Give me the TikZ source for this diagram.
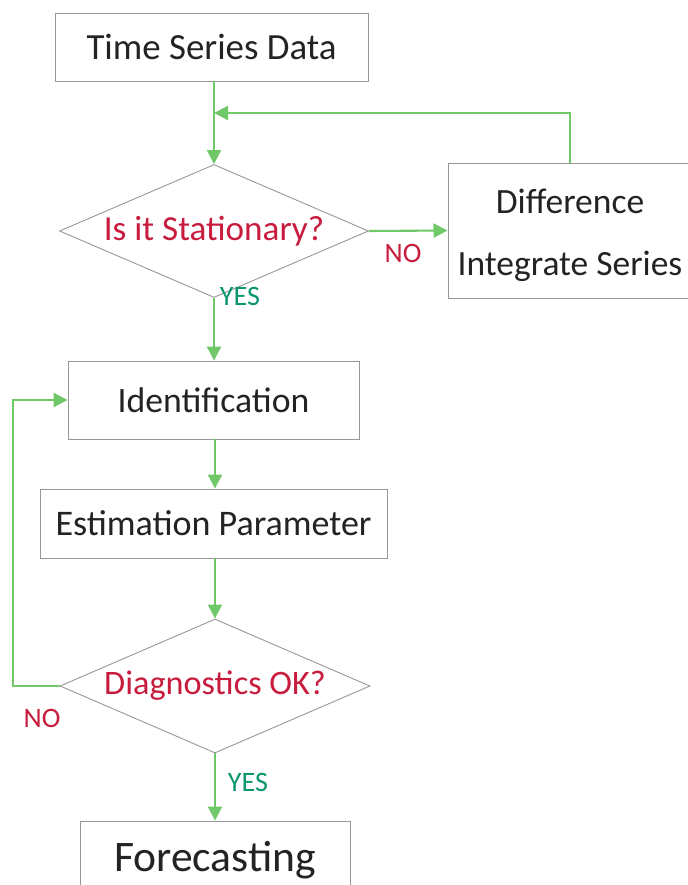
\documentclass[tikz,border=0pt]{standalone}
\usepackage{fontspec}
\setmainfont{Carlito}
\usetikzlibrary{shapes.geometric,arrows.meta}
\definecolor{arrgreen}{RGB}{112,200,105}
\definecolor{qred}{RGB}{200,28,62}
\definecolor{yteal}{RGB}{10,150,110}
\definecolor{boxline}{RGB}{150,150,150}
\definecolor{txt}{RGB}{35,35,35}
\tikzset{
  stepbox/.style={draw=boxline, line width=0.5pt, fill=white, text=txt, inner sep=0pt},
  decision/.style={draw=boxline, line width=0.5pt, shape=diamond, inner sep=0pt, text=qred},
  flow/.style={draw=arrgreen, line width=1.2pt, -{Triangle[length=8pt,width=8pt]}},
  nolab/.style={text=qred, font=\fontsize{16}{18}\selectfont},
  yeslab/.style={text=yteal, font=\fontsize{16}{18}\selectfont},
}
\begin{document}
\begin{tikzpicture}[x=0.02cm,y=-0.02cm]
\useasboundingbox (0,0) rectangle (688,885);
\clip (0,0) rectangle (688,885);
\fill[white] (0,0) rectangle (688,885);
\node[stepbox, minimum width=313*0.02cm, minimum height=68*0.02cm, font=\fontsize{21}{24}\selectfont] (tsd) at (211.5,47) {Time Series Data};
\node[decision, minimum width=309*0.02cm, minimum height=133*0.02cm, label={[text=qred, font=\fontsize{20}{24}\selectfont]center:Is it Stationary?}] (stat) at (214,231) {};
\node[stepbox, minimum width=244*0.02cm, minimum height=135*0.02cm, label={[text=txt, align=center, font=\fontsize{20.2}{35}\selectfont, yshift=-0.1cm]center:Difference\\Integrate Series}] (diff) at (570,230.5) {};
\node[stepbox, minimum width=291*0.02cm, minimum height=78*0.02cm, font=\fontsize{20.3}{24}\selectfont] (ident) at (213.5,400) {Identification};
\node[stepbox, minimum width=347*0.02cm, minimum height=69*0.02cm, font=\fontsize{20.5}{24}\selectfont] (est) at (213.5,523.5) {Estimation Parameter};
\node[decision, minimum width=310*0.02cm, minimum height=134*0.02cm, label={[text=qred, font=\fontsize{19.5}{24}\selectfont]center:Diagnostics OK?}] (diag) at (215,686) {};
\node[stepbox, minimum width=270*0.02cm, minimum height=78*0.02cm, font=\fontsize{24.8}{30}\selectfont] (fore) at (215,860) {Forecasting};
\coordinate (join) at (214,113);
\coordinate (lcorner) at (13,686);
\draw[flow] (tsd.south -| join) -- (stat.north);
\draw[flow] (diff.north) |- (join);
\draw[flow] (stat.east) -- (diff.west);
\draw[flow] (stat.south) -- (ident.north -| stat.south);
\draw[flow] (ident.south -| diag.north) -- (est.north -| diag.north);
\draw[flow] (est.south -| diag.north) -- (diag.north);
\draw[flow] (diag.west) -- (lcorner) |- (ident.west);
\draw[flow] (diag.south) -- (fore.north -| diag.south);
\node[nolab] (no1) at (403,253) {NO};
\node[yeslab] (yes1) at (240,296) {YES};
\node[nolab] (no2) at (42,718) {NO};
\node[yeslab] (yes2) at (248,782) {YES};
\end{tikzpicture}
\end{document}
